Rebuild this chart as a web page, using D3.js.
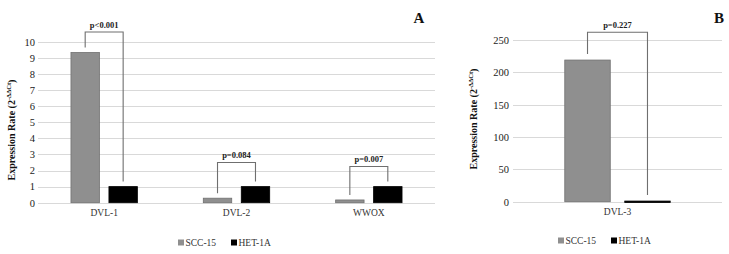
<!DOCTYPE html>
<html><head><meta charset="utf-8">
<script src="https://cdn.jsdelivr.net/npm/d3@7"></script>
<style>body{margin:0;background:#fff}svg{display:block}text{font-family:"Liberation Serif","Times New Roman",serif}</style>
</head><body>
<script>
// ---- data ----
const series = ["SCC-15", "HET-1A"];
const catsA = ["DVL-1", "DVL-2", "WWOX"];
const sccA = [9.33, 0.28, 0.17];
const hetA = [1, 1, 1];
const pA = ["p<0.001", "p=0.084", "p=0.007"];
const bracketTopA = [10.6, 2.5, 2.25];
const ticksA = [0,1,2,3,4,5,6,7,8,9,10];

const catsB = ["DVL-3"];
const sccB = [219];
const hetB = [1];
const pB = ["p=0.227"];
const bracketTopB = [262];
const ticksB = [0,50,100,150,200,250];

const colors = {"SCC-15": "#8f8f8f", "HET-1A": "#000000"};
const strokes = {"SCC-15": "#707070", "HET-1A": "#000000"};

const W = 729, H = 254;
const svg = d3.select("body").append("svg").attr("width", W).attr("height", H);

function panel(cfg) {
  const g = svg.append("g");
  const x = d3.scaleBand().domain(cfg.cats).range(cfg.xr).padding(0);
  const xi = d3.scaleBand().domain(series).range([0, x.bandwidth()]).paddingInner(0.225).paddingOuter(0.855);
  const y = d3.scaleLinear().domain([0, cfg.ymax]).range(cfg.yr);

  g.selectAll(".grid").data(cfg.ticks).join("line")
    .attr("x1", cfg.xr[0]).attr("x2", cfg.xr[1])
    .attr("y1", d => Math.round(y(d)) + 0.5).attr("y2", d => Math.round(y(d)) + 0.5)
    .attr("stroke", "#d9d9d9").attr("stroke-width", 1);

  const ax = g.append("g").attr("transform", `translate(${cfg.xr[0]},0)`)
    .call(d3.axisLeft(y).tickValues(cfg.ticks).tickSize(0).tickPadding(cfg.tickPad));
  ax.select(".domain").remove();
  ax.selectAll("text").attr("font-family", "Liberation Serif").attr("font-size", 10.5).attr("fill", "#1a1a1a");

  const rows = cfg.cats.map((c, i) => ({cat: c, vals: [cfg.scc[i], cfg.het[i]]}));
  const grp = g.selectAll(".grp").data(rows).join("g")
    .attr("transform", d => `translate(${x(d.cat)},0)`);
  grp.selectAll("rect").data(d => series.map((s, j) => ({s, v: d.vals[j]}))).join("rect")
    .attr("x", d => xi(d.s) + 0.5).attr("width", xi.bandwidth() - 1)
    .attr("y", d => y(d.v)).attr("height", d => Math.max(1.5, y(0) - y(d.v)))
    .attr("fill", d => colors[d.s]).attr("stroke", d => strokes[d.s]).attr("stroke-width", 0.8);

  rows.forEach((d, i) => {
    const x1 = x(d.cat) + xi(series[0]) + xi.bandwidth() / 2;
    const x2 = x(d.cat) + xi(series[1]) + xi.bandwidth() / 2;
    const top = y(cfg.bt[i]);
    const l = y(d.vals[0]) - cfg.gap, r = y(d.vals[1]) - cfg.gap;
    g.append("path").attr("d", `M${x1},${l}V${top}H${x2}V${r}`)
      .attr("fill", "none").attr("stroke", "#6f6f6f").attr("stroke-width", 1.1);
    g.append("text").attr("x", (x1 + x2) / 2).attr("y", top - 4)
      .attr("text-anchor", "middle").attr("font-size", 8.5).attr("font-weight", "bold")
      .attr("fill", "#222").text(cfg.p[i]);
  });

  g.selectAll(".cat").data(cfg.cats).join("text")
    .attr("x", d => x(d) + x.bandwidth() / 2).attr("y", cfg.yr[0] + 13)
    .attr("text-anchor", "middle").attr("font-size", 9.5).attr("fill", "#333").text(d => d);

  const t = g.append("text").attr("transform", `translate(${cfg.titleX},${cfg.titleY}) rotate(-90)`)
    .attr("text-anchor", "middle").attr("font-size", 10).attr("font-weight", "bold").attr("fill", "#111");
  t.append("tspan").text("Expression Rate (2");
  t.append("tspan").attr("font-size", 6.5).attr("dy", -4).text("-ΔΔCt");
  t.append("tspan").attr("dy", 4).text(")");

  g.append("text").attr("x", cfg.letterX).attr("y", 23).attr("text-anchor", "middle")
    .attr("font-size", 15).attr("font-weight", "bold").attr("fill", "#111").text(cfg.letter);

  const lg = g.append("g");
  series.forEach((s, j) => {
    lg.append("rect").attr("x", cfg.leg[j]).attr("y", cfg.legY - 6.5).attr("width", 6).attr("height", 6)
      .attr("fill", colors[s]);
    lg.append("text").attr("x", cfg.leg[j] + 7.5).attr("y", cfg.legY).attr("font-size", 9.5)
      .attr("fill", "#333").text(s);
  });
}

panel({cats: catsA, scc: sccA, het: hetA, p: pA, bt: bracketTopA, ticks: ticksA, ymax: 10,
  xr: [38, 435], yr: [202.7, 41.7], tickPad: 3, gap: 5, titleX: 15, titleY: 130,
  letter: "A", letterX: 419, leg: [178, 231], legY: 246});
panel({cats: catsB, scc: sccB, het: hetB, p: pB, bt: bracketTopB, ticks: ticksB, ymax: 250,
  xr: [513, 722], yr: [201.7, 40], tickPad: 4, gap: 6, titleX: 477, titleY: 119,
  letter: "B", letterX: 719, leg: [558, 611], legY: 244});
</script>
</body></html>
